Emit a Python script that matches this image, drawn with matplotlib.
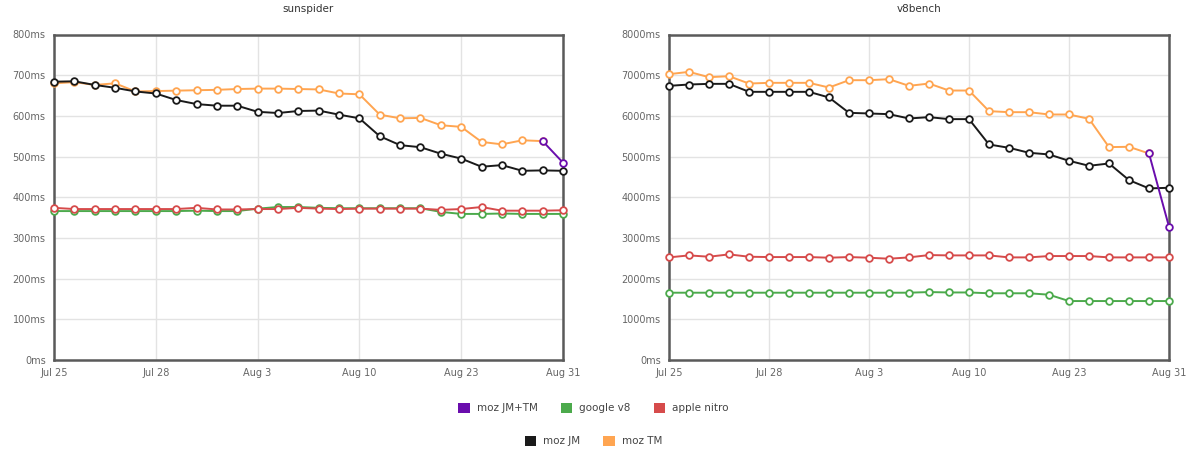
import matplotlib
matplotlib.use("Agg")
import matplotlib.pyplot as plt
from matplotlib.patches import Patch

# Run dates (one sample per build); labels only on every fifth run
dates = ["Jul 25", "", "", "", "", "Jul 28", "", "", "", "", "Aug 3", "", "", "", "",
         "Aug 10", "", "", "", "", "Aug 23", "", "", "", "", "Aug 31"]

# sunspider (ms)
ss_moz_jm = [684, 685, 676, 669, 660, 655, 639, 629, 625, 625, 610, 607, 612,
             613, 603, 594, 550, 528, 523, 507, 495, 475, 479, 465, 466, 465]
ss_moz_tm = [680, 683, 676, 680, 660, 661, 662, 663, 664, 666, 667, 667, 666,
             665, 655, 653, 603, 594, 595, 577, 573, 536, 530, 540, 538, None]
ss_moz_jmtm = [None] * 24 + [538, 485]
ss_google_v8 = [366, 366, 366, 366, 366, 366, 366, 367, 366, 366, 372, 376, 376,
                374, 373, 373, 373, 373, 373, 364, 359, 359, 360, 359, 359, 359]
ss_apple_nitro = [374, 371, 371, 371, 371, 371, 371, 374, 370, 370, 371, 371, 374,
                  372, 371, 372, 372, 372, 372, 369, 371, 376, 367, 367, 367, 368]

# v8bench (ms)
v8_moz_jm = [6738, 6771, 6787, 6787, 6591, 6591, 6591, 6591, 6452, 6075, 6059, 6042, 5936,
             5969, 5920, 5920, 5297, 5215, 5093, 5052, 4896, 4773, 4830, 4421, 4217, 4233]
v8_moz_tm = [7025, 7082, 6951, 6975, 6795, 6812, 6812, 6812, 6697, 6877, 6877, 6902, 6738,
             6795, 6623, 6623, 6116, 6091, 6091, 6034, 6034, 5928, 5232, 5240, 5076, None]
v8_moz_jmtm = [None] * 24 + [5076, 3275]
v8_google_v8 = [1654, 1654, 1654, 1654, 1654, 1654, 1654, 1654, 1654, 1654, 1654, 1654, 1654,
                1670, 1660, 1660, 1640, 1640, 1640, 1605, 1449, 1449, 1449, 1449, 1449, 1449]
v8_apple_nitro = [2522, 2571, 2538, 2596, 2538, 2530, 2530, 2530, 2514, 2530, 2514, 2489, 2522,
                  2579, 2571, 2571, 2571, 2522, 2522, 2555, 2555, 2555, 2522, 2522, 2522, 2522]

series_names = ["moz JM+TM", "google v8", "apple nitro", "moz JM", "moz TM"]
colors = {
    "moz JM+TM": "#6a0dad",
    "google v8": "#4caa4c",
    "apple nitro": "#d64b4b",
    "moz JM": "#1a1a1a",
    "moz TM": "#ffa551",
}

W, H = 1187, 449
fig = plt.figure(figsize=(W / 100, H / 100), dpi=100)

def px_axes(x0, x1, y0, y1):
    return fig.add_axes([x0 / W, (H - y1) / H, (x1 - x0) / W, (y1 - y0) / H])

def draw_panel(ax, title, data, ymax, ystep):
    n = len(dates)
    xs = list(range(n))
    # draw order: TM, JM, v8, nitro, then JM+TM on top
    for name in ["moz TM", "moz JM", "google v8", "apple nitro", "moz JM+TM"]:
        vals = data[name]
        pts = [(x, v) for x, v in zip(xs, vals) if v is not None]
        px, py = zip(*pts)
        ax.plot(px, py, color=colors[name], lw=1.4, marker="o", ms=4.8,
                mfc="white", mec=colors[name], mew=1.3, clip_on=False, zorder=3)
    ax.set_xlim(0, n - 1)
    ax.set_ylim(0, ymax)
    ticks = list(range(0, ymax + 1, ystep))
    ax.set_yticks(ticks)
    ax.set_yticklabels([f"{t}ms" for t in ticks])
    xt = [i for i, d in enumerate(dates) if d]
    ax.set_xticks(xt)
    ax.set_xticklabels([dates[i] for i in xt])
    ax.grid(True, color="#e3e3e3", lw=1)
    ax.set_axisbelow(True)
    ax.tick_params(length=0, labelsize=7, colors="#666666", pad=6)
    for s in ax.spines.values():
        s.set_color("#5a5a5a")
        s.set_linewidth(1.8)
    ax.set_title(title, fontsize=7.5, color="#333333", pad=16)

ax1 = px_axes(54, 563, 34.5, 360)
draw_panel(ax1, "sunspider", {
    "moz JM+TM": ss_moz_jmtm, "google v8": ss_google_v8, "apple nitro": ss_apple_nitro,
    "moz JM": ss_moz_jm, "moz TM": ss_moz_tm}, 800, 100)

ax2 = px_axes(669, 1169, 34.5, 360)
draw_panel(ax2, "v8bench", {
    "moz JM+TM": v8_moz_jmtm, "google v8": v8_google_v8, "apple nitro": v8_apple_nitro,
    "moz JM": v8_moz_jm, "moz TM": v8_moz_tm}, 8000, 1000)

def legend_row(names, y):
    handles = [Patch(facecolor=colors[n], edgecolor="none", label=n) for n in names]
    fig.legend(handles=handles, loc="center", bbox_to_anchor=(0.5, y), ncol=len(names),
               frameon=False, fontsize=7.5, handlelength=1.1, handleheight=1.1,
               handletextpad=0.7, columnspacing=2.2, labelcolor="#444444")

legend_row(series_names[:3], (H - 408) / H)
legend_row(series_names[3:], (H - 441) / H)

fig.savefig("out.png", dpi=100)
